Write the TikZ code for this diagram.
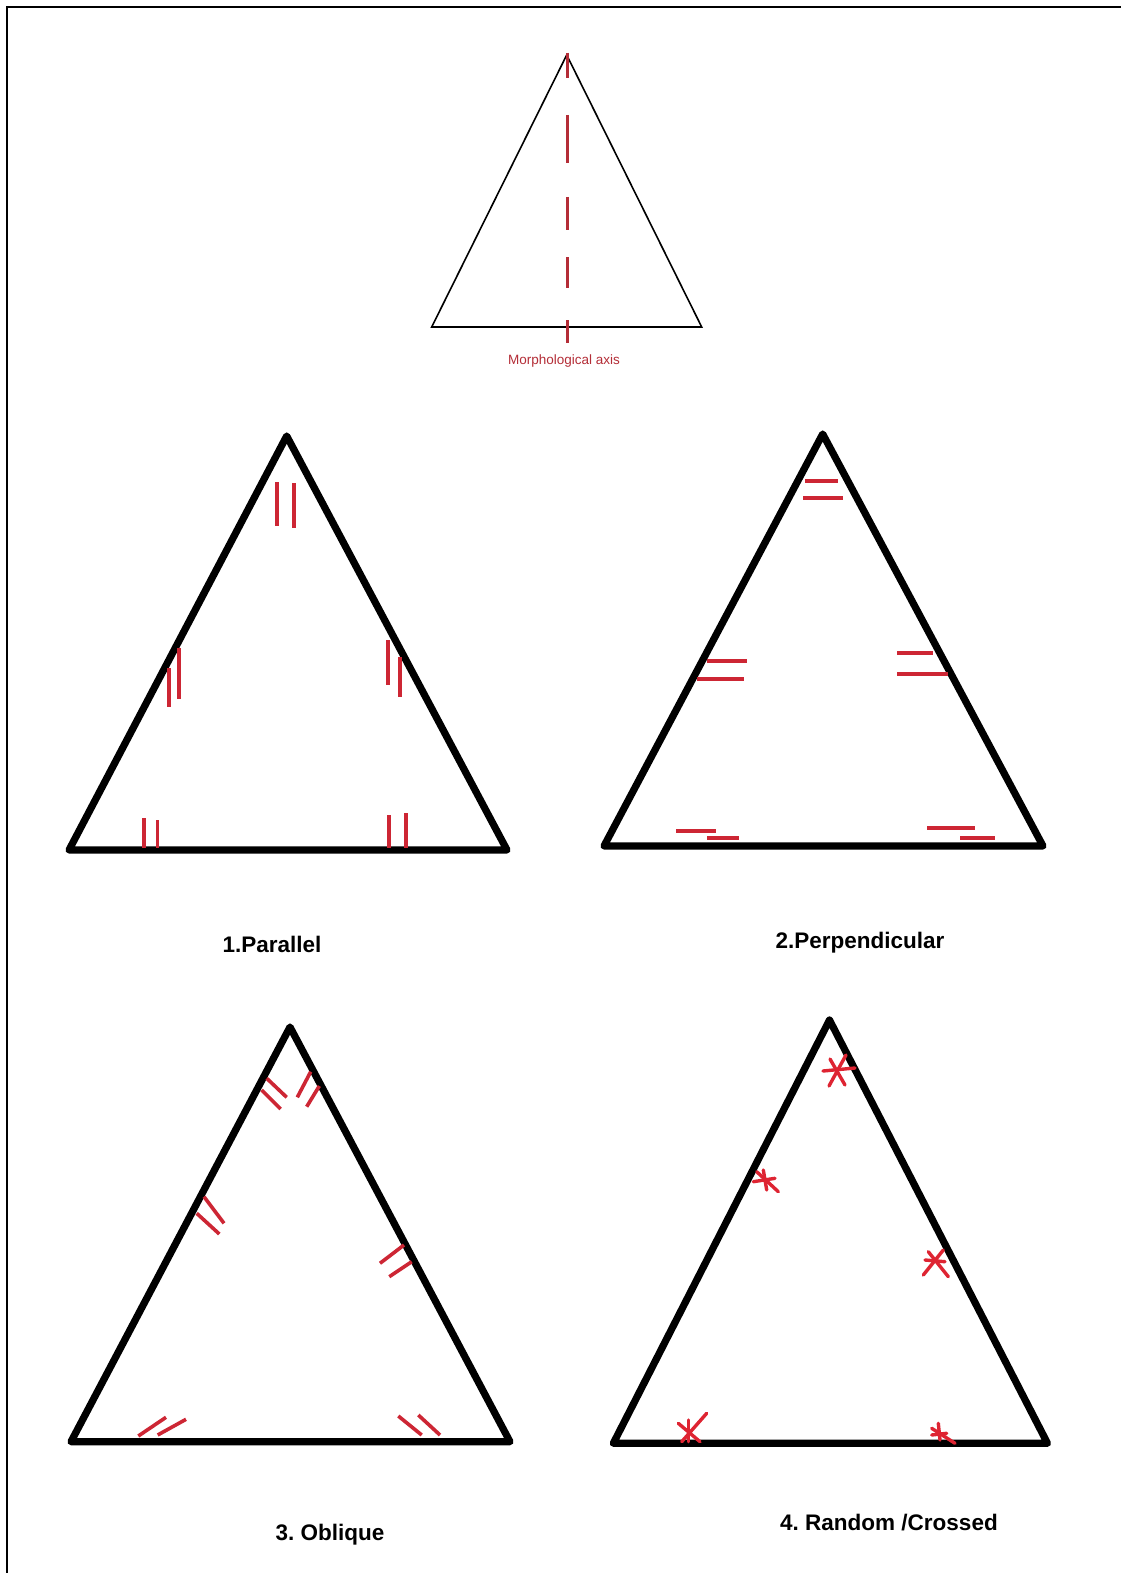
\documentclass[tikz,border=0pt]{standalone}
\usepackage{fontspec}
\setmainfont{Liberation Sans}
\frenchspacing
\begin{document}
\begin{tikzpicture}[x=1pt,y=-1pt,
  tri/.style={draw=black,line width=7.2pt,line join=round,line cap=round},
  thintri/.style={draw=black,line width=1.6pt,line join=miter},
  mk/.style={draw=markred,line width=3.6pt},
  st/.style={draw=starred,line width=3.4pt,line cap=round},
  axisdash/.style={draw=axisred,line width=2.6pt},
  lbl/.style={inner sep=0pt,font=\fontsize{22.5}{26}\selectfont\bfseries},
  axlbl/.style={inner sep=0pt,text=axisred,font=\fontsize{13.5}{16}\selectfont}]
\definecolor{markred}{RGB}{205,38,52}
\definecolor{starred}{RGB}{222,36,50}
\definecolor{axisred}{RGB}{180,45,55}
\useasboundingbox (0,0) rectangle (1121,1573);
\fill[white] (0,0) rectangle (1121,1573);
% frame (top and left only)
\draw[line width=2pt] (7,1573) -- (7,7) -- (1121,7);

% ---- top triangle with morphological axis
\coordinate (T0a) at (566.7,55);
\coordinate (T0b) at (431.7,327);
\coordinate (T0c) at (701.7,327);
\draw[thintri] (T0a) -- (T0b) -- (T0c) -- cycle;
\draw[axisdash] (567.5,53) -- (567.5,78);
\draw[axisdash] (567.5,115) -- (567.5,163);
\draw[axisdash] (567.5,197) -- (567.5,230);
\draw[axisdash] (567.5,257) -- (567.5,288);
\draw[axisdash] (567.5,320) -- (567.5,343);
\node[axlbl] (axlabel) at (564,361) {Morphological axis};

% ---- 1. Parallel
\coordinate (A1) at (286.7,436);
\coordinate (B1) at (69,850);
\coordinate (C1) at (507,850);
\draw[tri] (A1) -- (B1) -- (C1) -- cycle;
\draw[mk] (276.7,482) -- (276.7,526);
\draw[mk] (294,483) -- (294,528);
\draw[mk] (179,648) -- (179,699);
\draw[mk] (169,668) -- (169,707);
\draw[mk] (388,640) -- (388,685);
\draw[mk] (400,657) -- (400,697);
\draw[mk] (144,818) -- (144,848);
\draw[mk] (157.3,820) -- (157.3,848);
\draw[mk] (389,815) -- (389,848);
\draw[mk] (406,813) -- (406,848);
\node[lbl] (l1) at (272,944) {1.Parallel};

% ---- 2. Perpendicular
\coordinate (A2) at (822.7,434);
\coordinate (B2) at (604,846);
\coordinate (C2) at (1043,846);
\draw[tri] (A2) -- (B2) -- (C2) -- cycle;
\draw[mk] (805,480.7) -- (838,480.7);
\draw[mk] (803,498) -- (843,498);
\draw[mk] (706.7,660.7) -- (746.7,660.7);
\draw[mk] (696.7,679) -- (744,679);
\draw[mk] (897,653) -- (933,653);
\draw[mk] (897,674) -- (948,674);
\draw[mk] (676,830.7) -- (716,830.7);
\draw[mk] (707,838) -- (739,838);
\draw[mk] (927,828) -- (975,828);
\draw[mk] (960,838) -- (995,838);
\node[lbl] (l2) at (860,943) {2.Perpendicular};

% ---- 3. Oblique
\coordinate (A3) at (290,1027);
\coordinate (B3) at (71,1441.7);
\coordinate (C3) at (510,1441.7);
\draw[tri] (A3) -- (B3) -- (C3) -- cycle;
\draw[mk] (266.7,1078.3) -- (286.7,1097.3);
\draw[mk] (261.7,1090) -- (280.7,1109);
\draw[mk] (310.7,1071.7) -- (297.3,1097.3);
\draw[mk] (319.3,1086) -- (306.7,1106.7);
\draw[mk] (204,1196.7) -- (224,1223.3);
\draw[mk] (196.7,1213.3) -- (219.3,1234);
\draw[mk] (404,1245) -- (380,1263.3);
\draw[mk] (411.7,1261.7) -- (389.3,1276.7);
\draw[mk] (166,1417.3) -- (138.3,1436);
\draw[mk] (186,1419.3) -- (157.7,1435);
\draw[mk] (398.3,1416) -- (421.7,1435);
\draw[mk] (418.3,1415) -- (440,1435);
\node[lbl] (l3) at (330,1535) {3. Oblique};

% ---- 4. Random / Crossed
\coordinate (A4) at (829.5,1020);
\coordinate (B4) at (613.3,1443.3);
\coordinate (C4) at (1047.5,1443.3);
\draw[tri] (A4) -- (B4) -- (C4) -- cycle;
% top asterisk
\draw[st] (823,1071) -- (855,1068);
\draw[st] (829,1086) -- (846,1055);
\draw[st] (830,1059) -- (845,1085);
% left asterisk
\draw[st] (756.7,1171.7) -- (778.3,1191.7);
\draw[st] (763.3,1170) -- (766.7,1190);
\draw[st] (753.3,1181.7) -- (775,1178.3);
% right asterisk
\draw[st] (928.3,1251.7) -- (948.3,1276.7);
\draw[st] (923.3,1275) -- (943.3,1250);
\draw[st] (925,1260) -- (945,1261.7);
% bottom-left asterisk
\draw[st] (681.7,1441.7) -- (706.7,1413.3);
\draw[st] (678.3,1423.3) -- (700,1441.7);
\draw[st] (688.3,1420) -- (688.3,1441.7);
% bottom-right asterisk
\draw[st] (938.3,1423.3) -- (940,1440);
\draw[st] (931.7,1428.3) -- (955,1443.3);
\draw[st] (931.7,1435) -- (946.7,1433.3);
\node[lbl] (l4) at (889,1523) {4. Random /Crossed};
\end{tikzpicture}
\end{document}
